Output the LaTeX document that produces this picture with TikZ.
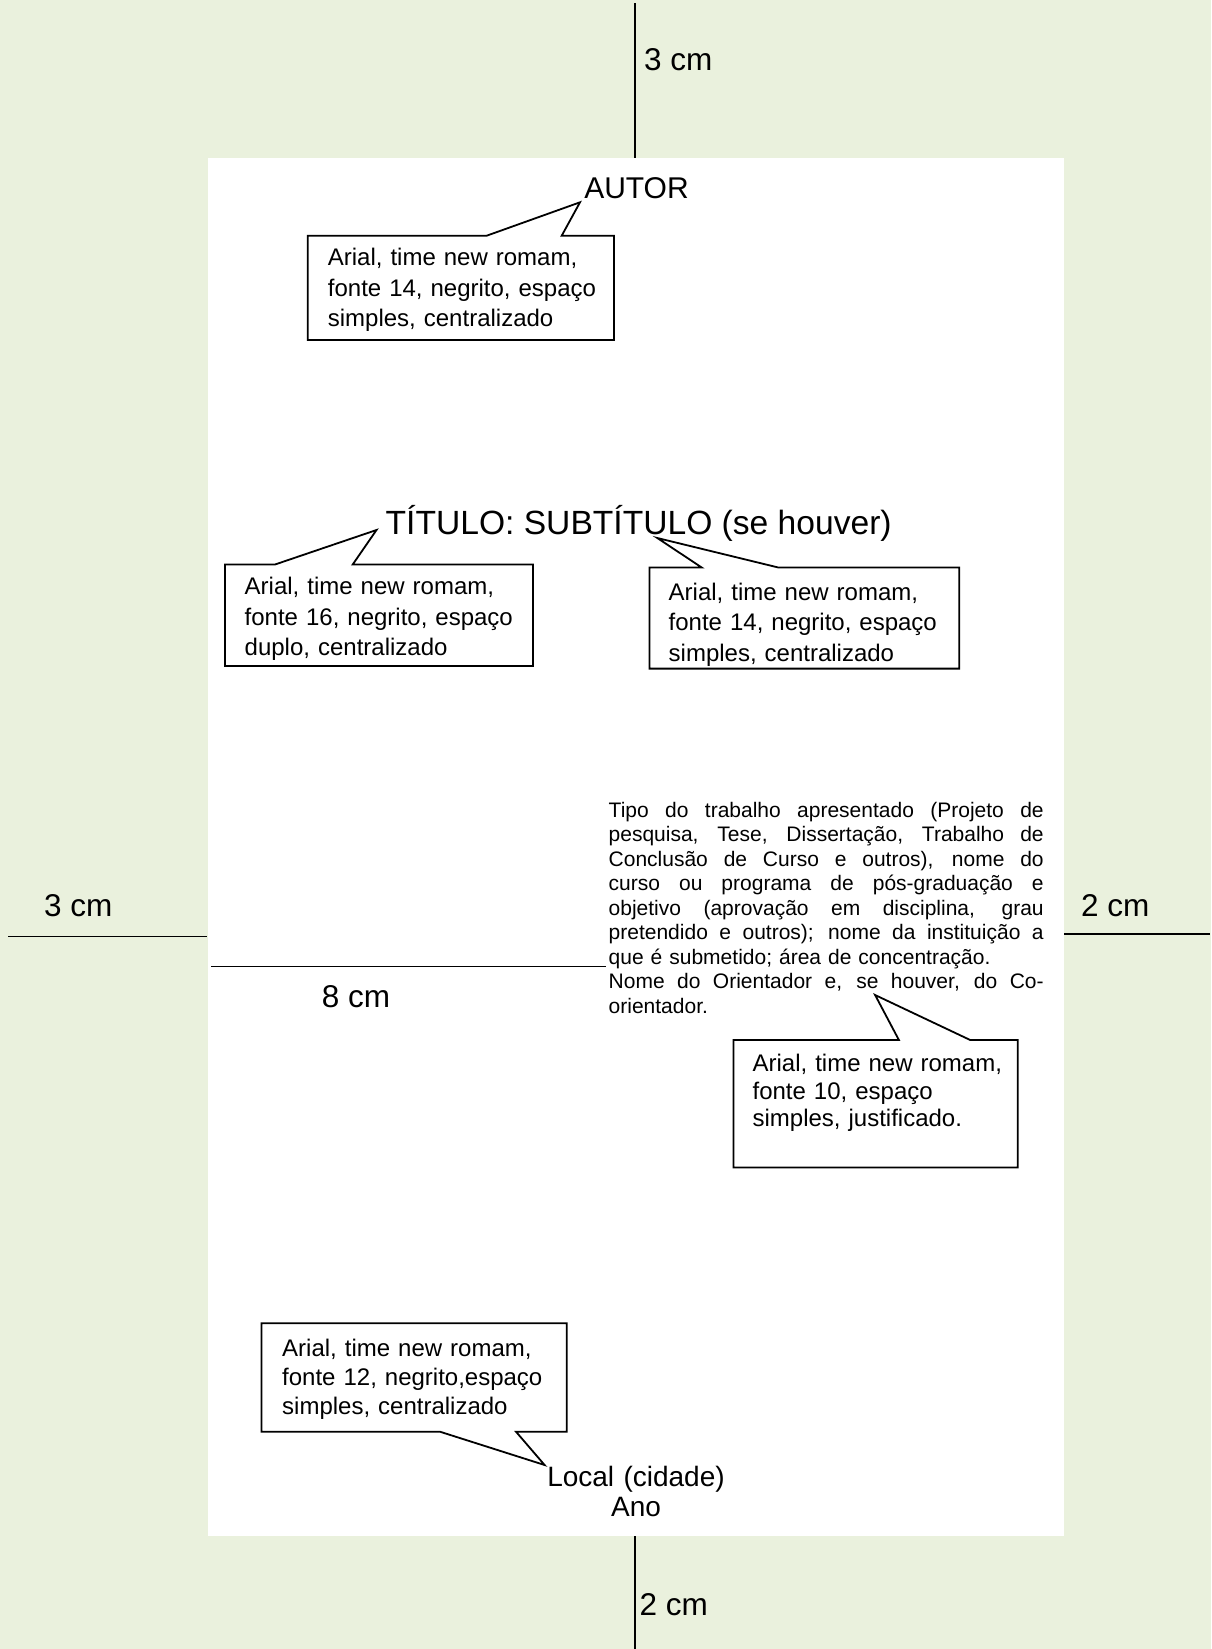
\documentclass[tikz,border=0pt]{standalone}
\usepackage{fontspec}
\setmainfont{Liberation Sans}
\definecolor{bggreen}{RGB}{234,241,221}
\newcommand{\jline}[1]{\leavevmode\hbox to 435pt{\spaceskip=0.278em plus 1fil\relax #1}}
\begin{document}
\begin{tikzpicture}[x=1pt,y=-1pt,
  lbl/.style={inner sep=0pt, anchor=base west, font=\fontsize{31.5}{34}\selectfont},
  ctext/.style={inner sep=0pt, anchor=base west, align=left, text width=285pt, font=\fontsize{24}{30.5}\selectfont},
  ctextb/.style={ctext, font=\fontsize{24}{27.8}\selectfont},
  ctextc/.style={ctext, font=\fontsize{24}{28.9}\selectfont},
  callout/.style={draw=black, line width=1.8pt, fill=white, line join=miter},
  mline/.style={draw=black, line width=1.8pt}]
\useasboundingbox (0,0) rectangle (1211,1649);
% background and page
\fill[bggreen] (0,0) rectangle (1211,1649);
\fill[white] (208,157.5) rectangle (1064,1536);

% margin lines
\coordinate (tA) at (635,3);    \coordinate (tB) at (635,157.5);
\coordinate (bA) at (635,1536); \coordinate (bB) at (635,1649);
\coordinate (lA) at (8,936.5);  \coordinate (lB) at (207,936.5);
\coordinate (rA) at (1064,934); \coordinate (rB) at (1210,934);
\coordinate (eA) at (211,966.5); \coordinate (eB) at (606,966.5);
\draw[mline] (tA) -- (tB);
\draw[mline] (bA) -- (bB);
\draw[mline] (lA) -- (lB);
\draw[mline] (rA) -- (rB);
\draw[mline] (eA) -- (eB);

\node[lbl] (top3) at (644,70) {3 cm};
\node[lbl] (left3) at (44,916.7) {3 cm};
\node[lbl] (right2) at (1081,916.7) {2 cm};
\node[lbl] (eight) at (321.7,1007.7) {8 cm};
\node[lbl] (bot2) at (639.5,1615) {2 cm};

% main texts
\node[inner sep=0pt, anchor=base, font=\fontsize{30}{32}\selectfont] (autor) at (636.5,198.3) {AUTOR};
\node[inner sep=0pt, anchor=base west, font=\fontsize{33.6}{36}\selectfont] (titulo) at (385.5,534) {TÍTULO: SUBTÍTULO (se houver)};
\node[inner sep=0pt, anchor=base, align=center, text width=240pt, font=\fontsize{28}{30}\selectfont] (local) at (636,1486.7) {Local (cidade)\\Ano};

% callouts
\draw[callout] (307.7,235.7) -- (486.7,235.7) -- (580,202.3) -- (561.7,235.7) -- (614,235.7) -- (614,340) -- (307.7,340) -- cycle;
\draw[callout] (225,564.5) -- (275,564.5) -- (376.5,530) -- (352.7,564.5) -- (533,564.5) -- (533,666) -- (225,666) -- cycle;
\draw[callout] (649.5,567.5) -- (701.7,567.5) -- (657.3,538) -- (778.3,567.5) -- (959.3,567.5) -- (959.3,668.6) -- (649.5,668.6) -- cycle;
\draw[callout] (733.4,1040) -- (898.9,1040) -- (875.1,995) -- (970.2,1040) -- (1017.7,1040) -- (1017.7,1167.5) -- (733.4,1167.5) -- cycle;
\draw[callout] (261.4,1323.3) -- (566.8,1323.3) -- (566.8,1431.7) -- (516,1431.7) -- (544.6,1465) -- (440,1431.7) -- (261.4,1431.7) -- cycle;

\node[ctext] (c1) at (327.7,265.7) {Arial, time new romam,\\fonte 14, negrito, espaço\\simples, centralizado};
\node[ctext] (c2) at (244.5,594.8) {Arial, time new romam,\\fonte 16, negrito, espaço\\duplo, centralizado};
\node[ctext] (c3) at (668.5,600) {Arial, time new romam,\\fonte 14, negrito, espaço\\simples, centralizado};
\node[ctextb] (c4) at (752.4,1071.2) {Arial, time new romam,\\fonte 10, espaço\\simples, justificado.};
\node[ctextc] (c5) at (282,1356.7) {Arial, time new romam,\\fonte 12, negrito,espaço\\simples, centralizado};

% justified paragraph
\node[inner sep=0pt, anchor=base west, align=left, text width=436pt, font=\fontsize{21}{24.5}\selectfont] (tipo) at (608.5,817) {%
\jline{Tipo do trabalho apresentado (Projeto de}\\
\jline{pesquisa, Tese, Dissertação, Trabalho de}\\
\jline{Conclusão de Curso e outros), nome do}\\
\jline{curso ou programa de pós-graduação e}\\
\jline{objetivo (aprovação em disciplina, grau}\\
\jline{pretendido e outros); nome da instituição a}\\
que é submetido; área de concentração.\\
\jline{Nome do Orientador e, se houver, do Co-}\\
orientador.};
\end{tikzpicture}
\end{document}
